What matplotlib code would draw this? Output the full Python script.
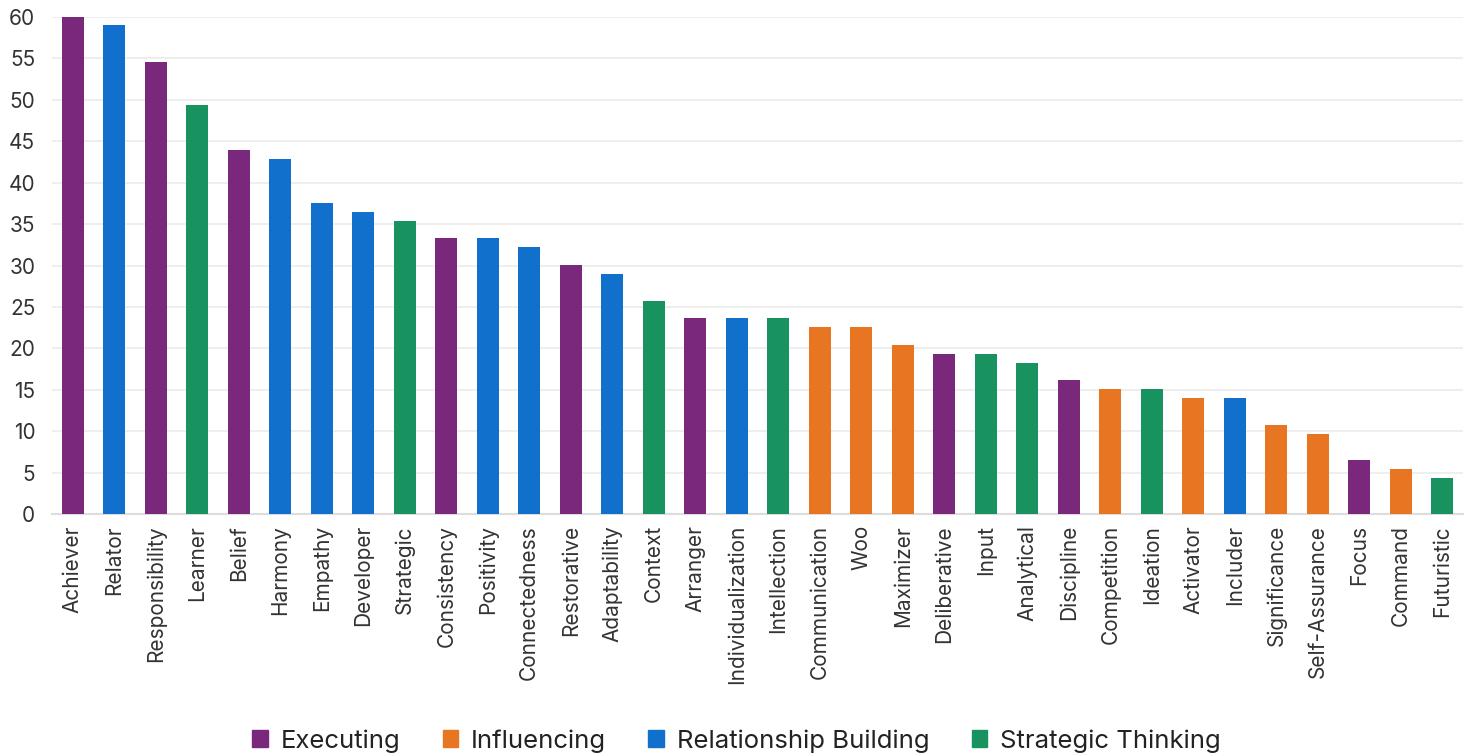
import matplotlib.pyplot as plt
from matplotlib.patches import Patch

plt.rcParams['font.family'] = ['Inter', 'DejaVu Sans']

strengths = ['Achiever', 'Relator', 'Responsibility', 'Learner', 'Belief', 'Harmony',
             'Empathy', 'Developer', 'Strategic', 'Consistency', 'Positivity',
             'Connectedness', 'Restorative', 'Adaptability', 'Context', 'Arranger',
             'Individualization', 'Intellection', 'Communication', 'Woo', 'Maximizer',
             'Deliberative', 'Input', 'Analytical', 'Discipline', 'Competition',
             'Ideation', 'Activator', 'Includer', 'Significance', 'Self-Assurance',
             'Focus', 'Command', 'Futuristic']
values = [60.0, 59.0, 54.6, 49.4, 44.0, 42.9, 37.6, 36.5, 35.4, 33.3, 33.3,
          32.2, 30.1, 29.0, 25.7, 23.7, 23.7, 23.7, 22.6, 22.6, 20.4,
          19.3, 19.3, 18.2, 16.2, 15.1, 15.1, 14.0, 14.0, 10.7, 9.7,
          6.5, 5.4, 4.3]
domains = ['Executing', 'Relationship Building', 'Executing', 'Strategic Thinking',
           'Executing', 'Relationship Building', 'Relationship Building',
           'Relationship Building', 'Strategic Thinking', 'Executing',
           'Relationship Building', 'Relationship Building', 'Executing',
           'Relationship Building', 'Strategic Thinking', 'Executing',
           'Relationship Building', 'Strategic Thinking', 'Influencing', 'Influencing',
           'Influencing', 'Executing', 'Strategic Thinking', 'Strategic Thinking',
           'Executing', 'Influencing', 'Strategic Thinking', 'Influencing',
           'Relationship Building', 'Influencing', 'Influencing', 'Executing',
           'Influencing', 'Strategic Thinking']

domain_names = ['Executing', 'Influencing', 'Relationship Building', 'Strategic Thinking']
domain_colors = {'Executing': '#7a287c', 'Influencing': '#e87522',
                 'Relationship Building': '#1170cb', 'Strategic Thinking': '#18935f'}

fig = plt.figure(figsize=(14.64, 7.56), dpi=100)
ax = fig.add_axes([52 / 1464, 242 / 756, 1411 / 1464, 497 / 756])

x = range(len(strengths))
ax.bar(x, values, width=0.53, color=[domain_colors[d] for d in domains], zorder=3)

ax.set_xlim(-0.5, len(strengths) - 0.5)
ax.set_ylim(0, 60)
ax.set_yticks(range(0, 61, 5))
ax.set_xticks(list(x))
ax.set_xticklabels(strengths, rotation=90, fontsize=15, color='#333333')
ax.tick_params(axis='y', length=0, pad=12, labelsize=15, labelcolor='#333333')
ax.tick_params(axis='x', length=0, pad=8)
ax.grid(axis='y', color='#ebebeb', linewidth=1.2, zorder=0)
for s in ['top', 'right', 'left']:
    ax.spines[s].set_visible(False)
ax.spines['bottom'].set_color('#dddddd')
ax.spines['bottom'].set_linewidth(1.5)

handles = [Patch(color=domain_colors[d], label=d) for d in domain_names]
fig.legend(handles=handles, loc='center', bbox_to_anchor=(0.503, 0.02), ncol=4,
           frameon=False, fontsize=18.5, handlelength=0.6, handleheight=0.6,
           handletextpad=0.5, columnspacing=1.65, labelcolor='#222222')

fig.savefig('out.png', dpi=100)
